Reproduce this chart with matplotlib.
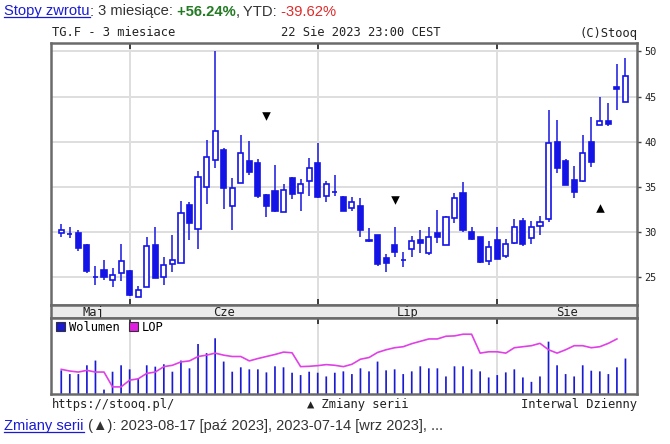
import matplotlib
matplotlib.use('Agg')
import matplotlib.pyplot as plt
import numpy as np
import pandas as pd
from matplotlib.lines import Line2D
from matplotlib.patches import Patch

# ---------------- data ----------------
dates = pd.bdate_range('2023-05-22', '2023-08-22')

opens = [29.95, 29.76, 29.90, 28.58, 25.00, 25.77, 24.70, 25.52, 25.74, 22.79,
         23.89, 28.54, 25.00, 26.44, 26.59, 32.96, 30.35, 34.96, 38.02, 39.09,
         32.85, 35.47, 37.83, 37.61, 34.14, 34.51, 32.26, 35.99, 34.29, 35.62,
         37.61, 34.03, 34.48, 33.92, 32.67, 32.93, 29.15, 29.68, 27.10, 28.54,
         26.92, 28.10, 29.17, 27.65, 29.90, 28.54, 31.56, 34.33, 30.05, 29.50,
         26.84, 29.17, 27.40, 28.76, 31.27, 29.31, 30.72, 31.45, 40.01, 37.83,
         35.80, 35.69, 40.01, 41.85, 42.33, 46.02, 44.43]
highs = [30.90, 30.53, 30.27, 28.69, 26.29, 26.95, 26.00, 28.69, 25.80, 24.08,
         29.50, 30.53, 27.21, 29.68, 33.44, 33.30, 36.73, 40.23, 50.00, 39.31,
         35.99, 40.78, 40.04, 38.09, 34.20, 37.46, 35.32, 36.06, 35.88, 38.20,
         39.90, 35.69, 36.36, 34.03, 33.92, 33.78, 30.42, 29.68, 27.58, 30.60,
         27.77, 29.61, 30.27, 30.53, 32.49, 31.82, 34.33, 35.58, 30.53, 29.50,
         29.06, 30.53, 29.24, 31.45, 31.53, 31.27, 31.82, 43.55, 42.40, 38.09,
         37.28, 40.74, 42.70, 44.91, 44.25, 48.60, 49.23]
lows = [29.42, 29.35, 27.95, 25.44, 24.19, 24.74, 23.97, 24.63, 22.93, 22.79,
        23.89, 24.89, 24.19, 25.55, 26.59, 29.13, 28.13, 33.11, 37.06, 32.56,
        30.24, 35.47, 36.32, 33.78, 31.71, 32.19, 32.19, 33.67, 32.30, 34.03,
        33.80, 33.30, 34.03, 32.30, 32.37, 29.42, 28.87, 26.29, 25.55, 27.29,
        26.18, 27.21, 27.65, 27.51, 28.76, 28.54, 31.01, 29.98, 29.13, 26.59,
        26.40, 27.03, 27.14, 28.69, 28.50, 28.69, 29.68, 31.08, 36.54, 35.21,
        33.74, 35.51, 37.17, 41.85, 41.78, 43.51, 44.43]
closes = [30.27, 29.76, 28.24, 25.74, 25.00, 25.00, 25.30, 26.84, 23.08, 23.64,
          28.43, 24.89, 26.36, 26.95, 32.08, 30.97, 36.06, 38.27, 41.19, 34.88,
          34.88, 38.72, 36.62, 34.03, 32.85, 32.37, 34.70, 34.22, 35.32, 37.06,
          33.85, 35.32, 34.48, 32.30, 33.37, 30.27, 29.05, 26.47, 26.59, 27.77,
          26.92, 29.06, 28.76, 29.42, 29.50, 31.71, 33.78, 30.27, 29.24, 26.73,
          28.32, 27.03, 28.69, 30.53, 28.69, 30.53, 31.08, 39.86, 37.06, 35.21,
          34.40, 38.79, 37.80, 42.26, 41.96, 45.83, 47.31]
volume = [70, 59, 59, 85, 99, 13, 66, 85, 73, 45, 85, 81, 88, 66, 99, 76, 148,
          121, 165, 96, 66, 79, 73, 73, 64, 82, 79, 63, 56, 66, 63, 52, 63,
          67, 59, 76, 67, 96, 70, 73, 59, 67, 82, 76, 76, 52, 82, 82, 73, 67,
          49, 56, 64, 73, 49, 36, 52, 155, 85, 59, 52, 85, 69, 67, 59, 79, 105]
lop = [73, 68, 65, 70, 65, 65, 21, 21, 41, 45, 61, 65, 81, 85, 95, 98, 111,
       115, 121, 115, 111, 111, 98, 105, 111, 117, 124, 122, 81, 82, 84, 87, 85,
       81, 88, 103, 108, 123, 131, 137, 140, 149, 156, 163, 163, 171, 172, 177,
       177, 121, 125, 125, 121, 137, 140, 143, 150, 131, 121, 131, 143, 143,
       137, 140, 150, 163, np.nan]
month_names = {5: 'Maj', 6: 'Cze', 7: 'Lip', 8: 'Sie'}
price_ticks = [25, 30, 35, 40, 45, 50]
sig_dates = ['2023-06-23', '2023-07-14', '2023-08-17']
sig_dir = ['down', 'down', 'up']
sig_level = [42.9, 33.5, 32.7]

# ---------------- figure ----------------
W, H = 670, 444
fig = plt.figure(figsize=(W / 100, H / 100), dpi=100)
fig.patch.set_facecolor('white')


def fx(x):
    return x / W


def fy(y):
    return 1 - y / H


L_, R_ = 51, 637
ax = fig.add_axes([fx(L_), fy(305), (R_ - L_) / W, (305 - 43) / H])
ax_m = fig.add_axes([fx(L_), fy(318), (R_ - L_) / W, (318 - 305) / H])
ax_v = fig.add_axes([fx(L_), fy(394), (R_ - L_) / W, (394 - 318) / H])

O = np.array(opens); Hh = np.array(highs); Lo = np.array(lows); C = np.array(closes)
n = len(O)
x = np.arange(n)
xlim = (-1.2, 67.35)

blue = '#1414e6'
wick = '#2a2ae0'
frame = '#6a6a6a'
gridc = '#dedede'
mono = ['DejaVu Sans Mono', 'DejaVu Sans']

month = np.array([d.month for d in dates])
starts = [i for i in range(1, n) if month[i] != month[i - 1]]

# price panel
ax.vlines(x, Lo, Hh, color=wick, lw=1.2, zorder=2)
up = C >= O
bot = np.minimum(O, C)
hgt = np.abs(C - O)
ax.bar(x[up], hgt[up], 0.6, bottom=bot[up], facecolor='white', edgecolor=blue,
       lw=1.2, zorder=3)
ax.bar(x[~up], hgt[~up], 0.6, bottom=bot[~up], facecolor=blue, edgecolor=blue,
       lw=1.2, zorder=3)
for d, s, lv in zip(sig_dates, sig_dir, sig_level):
    i = list(dates).index(pd.Timestamp(d))
    ax.scatter([i], [lv], marker='v' if s == 'down' else '^', s=38,
               color='black', zorder=4, linewidths=0)

ax.set_xlim(*xlim)
ax.set_ylim(21.94, 50.92)
ax.set_yticks(price_ticks)
ax.set_yticklabels([str(t) for t in price_ticks], family=mono, fontsize=7.4,
                   color='#222222')
ax.yaxis.tick_right()
ax.tick_params(axis='y', direction='out', length=3, width=1, color='#444444',
               pad=2)
ax.set_xticks(starts)
ax.set_xticklabels([])
ax.tick_params(axis='x', direction='in', length=4, width=1.2, color='#222222',
               top=True, bottom=True)
ax.grid(True, color=gridc, lw=1.4)
ax.set_axisbelow(True)
for sp in ax.spines.values():
    sp.set_color(frame)
    sp.set_linewidth(1.8)

# month strip
ax_m.set_facecolor('#ebebeb')
ax_m.set_xlim(*xlim)
ax_m.set_ylim(0, 1)
ax_m.set_xticks([])
ax_m.set_yticks([])
bounds = [-0.5] + starts + [xlim[1]]
mlist = [month[0]] + [month[s] for s in starts]
for k, m in enumerate(mlist):
    ax_m.text((bounds[k] + bounds[k + 1]) / 2, 0.45, month_names[m],
              ha='center', va='center', family=mono, fontsize=8.7,
              color='#222222')
for sp in ax_m.spines.values():
    sp.set_color(frame)
    sp.set_linewidth(1.8)

# volume panel
ax_v.bar(x, volume, 0.2, color='#1a1ad2', zorder=2, snap=False,
         linewidth=0)
ax_v.plot(x, lop, color='#e040e6', lw=1.2, zorder=3)
ax_v.set_xlim(*xlim)
ax_v.set_ylim(0, 225)
ax_v.set_yticks([])
ax_v.set_xticks(starts)
ax_v.set_xticklabels([])
ax_v.tick_params(axis='x', direction='in', length=4, width=1.2,
                 color='#222222', top=True, bottom=False)
ax_v.grid(True, axis='x', color=gridc, lw=1.4)
ax_v.set_axisbelow(True)
for sp in ax_v.spines.values():
    sp.set_color(frame)
    sp.set_linewidth(1.8)
handles = [Patch(facecolor='#1a1ad0', edgecolor='#333333', lw=0.8),
           Patch(facecolor='#e020e0', edgecolor='#333333', lw=0.8)]
ax_v.legend(handles, ['Wolumen', 'LOP'], loc='upper left', ncol=2,
            bbox_to_anchor=(0.0, 1.03), frameon=False, handlelength=0.75,
            handleheight=0.75, handletextpad=0.3, columnspacing=0.8,
            borderaxespad=0.2, borderpad=0.2,
            prop={'family': 'DejaVu Sans Mono', 'size': 8.7})

# ---------------- texts ----------------
sans = ['Liberation Sans', 'DejaVu Sans']
renderer = fig.canvas.get_renderer()


def fit_size(text, target, weight='normal'):
    t = fig.text(0, 0, text, fontsize=10, family=sans)
    w = t.get_window_extent(renderer).width
    t.remove()
    return 10 * target / w


def draw_pieces(pieces, x0, ybase, size):
    xx = x0
    for txt, col, wt, link in pieces:
        t = fig.text(fx(xx), fy(ybase), txt, color=col, fontsize=size,
                     fontweight=wt, family=sans, va='baseline', ha='left')
        bb = t.get_window_extent(renderer)
        if link:
            fig.add_artist(Line2D([fx(bb.x0), fx(bb.x1)],
                                  [fy(ybase + 2), fy(ybase + 2)],
                                  color=col, lw=0.9,
                                  transform=fig.transFigure))
        xx += bb.width


link_c = '#1a1ad6'
dark = '#333333'
top_pieces = [('Stopy zwrotu', link_c, 'normal', True),
              (':', dark, 'normal', False),
              (' 3 miesiące:', dark, 'normal', False),
              (' +56.24%', '#237a23', 'bold', False),
              (',', dark, 'normal', False),
              (' YTD:', dark, 'normal', False),
              (' -39.62%', '#e02a2a', 'normal', False)]
s_top = fit_size(''.join(p[0] for p in top_pieces), 332)
draw_pieces(top_pieces, 4, 15.5, s_top)

bot_pieces = [('Zmiany serii', link_c, 'normal', True),
              (' (▲): 2023-08-17 [paź 2023], 2023-07-14 [wrz 2023], ...',
               dark, 'normal', False)]
s_bot = fit_size(''.join(p[0] for p in bot_pieces), 439)
draw_pieces(bot_pieces, 4, 430, s_bot)

fig.text(fx(52), fy(33), 'TG.F - 3 miesiace', family=mono, fontsize=8.7,
         va='center', ha='left', color='#222222')
fig.text(fx(281), fy(33), '22 Sie 2023 23:00 CEST', family=mono, fontsize=8.7,
         va='center', ha='left', color='#222222')
fig.text(fx(637), fy(33), '(C)Stooq', family=mono, fontsize=8.7,
         va='center', ha='right', color='#222222')
fig.text(fx(52), fy(404), 'https://stooq.pl/', family=mono, fontsize=8.7,
         va='center', ha='left', color='#222222')
fig.text(fx(307), fy(404), '▲ Zmiany serii', family=mono, fontsize=8.7,
         va='center', ha='left', color='#222222')
fig.text(fx(637), fy(404), 'Interwal Dzienny', family=mono, fontsize=8.7,
         va='center', ha='right', color='#222222')

fig.savefig('out.png', dpi=100)
